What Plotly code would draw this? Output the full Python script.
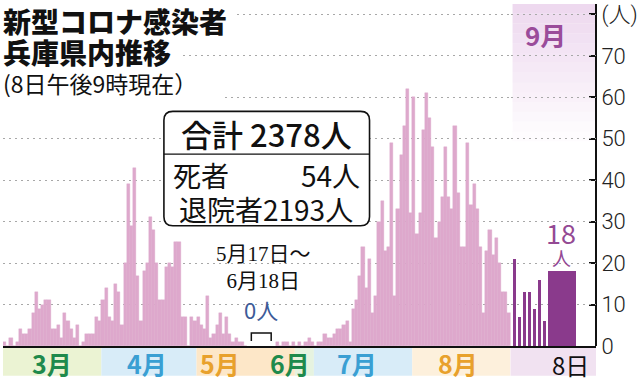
import pandas as pd
import plotly.graph_objects as go

# ---------------- data ----------------
spring_start = "2020-03-01"   # Mar 1 .. May 16
spring_cases = [1, 0, 2, 0, 1, 4, 3, 3, 4, 8,
                13, 9, 10, 11, 11, 4, 4, 5, 2, 8,
                6, 4, 2, 5, 0, 1, 3, 3, 3, 7,
                6, 11, 14, 7, 6, 15, 13, 5, 20, 39,
                29, 43, 17, 6, 18, 20, 31, 28, 20, 11,
                11, 19, 20, 19, 25, 25, 7, 7, 0, 7,
                6, 7, 5, 4, 12, 2, 3, 5, 8, 3,
                7, 3, 1, 2, 1, 1, 0]
summer_start = "2020-06-19"   # Jun 19 .. Aug 31
summer_cases = [1, 0, 1, 1, 0, 1, 0, 1, 0, 1,
                2, 1, 0, 1, 1, 3, 2, 2, 3, 4,
                4, 5, 6, 1, 9, 11, 17, 24, 14, 21,
                8, 12, 30, 35, 23, 24, 49, 12, 33, 46,
                53, 62, 32, 60, 27, 32, 52, 61, 55, 48,
                26, 30, 36, 48, 36, 33, 53, 37, 24, 24,
                49, 34, 39, 33, 24, 8, 23, 28, 22, 26,
                20, 13, 13, 8]
sept_days = [1, 2, 3, 4, 5, 6, 7, 8]
sept_cases = [21, 7, 13, 13, 9, 16, 6, 18]

month_labels = ["3月", "4月", "5月", "6月", "7月", "8月"]
month_label_dates = ["2020-03-16", "2020-04-15", "2020-05-08", "2020-06-23", "2020-07-14", "2020-08-15"]
month_starts = ["2020-03-01", "2020-04-01", "2020-05-01", "2020-06-01", "2020-07-01", "2020-08-01", "2020-09-01"]
y_ticks = [0, 10, 20, 30, 40, 50, 60, 70, 80]
y_ticktext = ["0", "10", "20", "30", "40", "50", "60", "70", "(人)"]

title_lines = ["新型コロナ感染者", "兵庫県内推移"]
subtitle = "(8日午後9時現在）"
total_text = "合計 2378人"
deaths_label, deaths_value = "死者", "54人"
discharged_text = "退院者2193人"
zero_period = "5月17日～<br>6月18日"
zero_text = "0人"

# ---------------- styling helpers ----------------
W, H = 640, 381
L, R, T, B = 3, 40, 2, 35
PW, PH = W - L - R, H - T - B


def px(x):
    return (x - L) / PW


def py(y):
    return (H - B - y) / PH


PINK = "#dea8cc"
PURPLE = "#8a3a8c"
GREEN = "#1f8a4c"
BLUE = "#3a9fd3"
ORANGE = "#e8a12c"
month_colors = [GREEN, BLUE, ORANGE, GREEN, BLUE, ORANGE]
band_colors = ["#ebf3d3", "#d8ecf8", "#fde7c8", "#e6f3e0", "#d8ecf8", "#fdf0dc"]

CJK = "Noto Sans CJK JP"

spring_dates = pd.date_range(spring_start, periods=len(spring_cases), freq="D")
summer_dates = pd.date_range(summer_start, periods=len(summer_cases), freq="D")
dates = list(spring_dates) + list(summer_dates)
values = spring_cases + summer_cases

fig = go.Figure()
fig.add_trace(go.Bar(x=dates, y=values, marker=dict(color=PINK, line=dict(color=PINK, width=0.4)),
                     xaxis="x", yaxis="y", showlegend=False, hoverinfo="skip"))

# September: expanded scale, the latest day drawn wide
today_extra = 2.5
sept_x = [d if d < sept_days[-1] else d + today_extra for d in sept_days]
sept_w = [0.55 if d < sept_days[-1] else 5.6 for d in sept_days]
fig.add_trace(go.Bar(x=sept_x, y=sept_cases, width=sept_w, marker=dict(color=PURPLE, line=dict(width=0)),
                     xaxis="x2", yaxis="y", showlegend=False, hoverinfo="skip"))

split = px(514)
shapes = []
# September tint at top (fading)
n = 14
y_top, y_bot = 2, 140
for i in range(n):
    y0 = y_top + (y_bot - y_top) * i / n
    y1 = y_top + (y_bot - y_top) * (i + 1) / n
    a = 0.75 * (1 - i / n)
    shapes.append(dict(type="rect", xref="paper", yref="paper", x0=px(516), x1=1, y0=py(y1), y1=py(y0),
                       fillcolor=f"rgba(232,204,234,{a:.3f})", line=dict(width=0), layer="below"))
# month bands below axis
band_y0, band_y1 = py(376), py(348)
for i in range(6):
    x0 = pd.Timestamp(month_starts[i]) - pd.Timedelta(hours=12)
    x1 = pd.Timestamp(month_starts[i + 1]) - pd.Timedelta(hours=12)
    shapes.append(dict(type="rect", xref="x", yref="paper", x0=x0, x1=x1, y0=band_y0, y1=band_y1,
                       fillcolor=band_colors[i], line=dict(width=0), layer="below"))
shapes.append(dict(type="rect", xref="paper", yref="paper", x0=split, x1=1, y0=band_y0, y1=band_y1,
                   fillcolor="#f1e2f1", line=dict(width=0), layer="below"))

# white backgrounds behind the title lines (hide the dotted grid)
for (x1, y0, y1) in [(238, 0, 34), (182, 34, 66), (226, 66, 98)]:
    shapes.append(dict(type="rect", xref="paper", yref="paper", x0=0, x1=px(x1), y0=py(y1), y1=py(y0),
                       fillcolor="white", line=dict(width=0), layer="above"))

# rounded stats box
bx0, bx1, by0, by1 = px(165), px(372), py(225), py(110)
rx, ry = 9 / PW, 9 / PH
path = (f"M {bx0+rx},{by1} L {bx1-rx},{by1} Q {bx1},{by1} {bx1},{by1-ry} "
        f"L {bx1},{by0+ry} Q {bx1},{by0} {bx1-rx},{by0} L {bx0+rx},{by0} "
        f"Q {bx0},{by0} {bx0},{by0+ry} L {bx0},{by1-ry} Q {bx0},{by1} {bx0+rx},{by1} Z")
shapes.append(dict(type="path", xref="paper", yref="paper", path=path, fillcolor="white",
                   line=dict(color="#111", width=1.6), layer="above"))
shapes.append(dict(type="line", xref="paper", yref="paper", x0=bx0, x1=bx1, y0=py(153), y1=py(153),
                   line=dict(color="#111", width=1.4), layer="above"))
# bracket marking the zero period
bpath = f"M {px(253)},{py(341)} L {px(253)},{py(333)} L {px(273)},{py(333)} L {px(273)},{py(341)}"
shapes.append(dict(type="path", xref="paper", yref="paper", path=bpath, line=dict(color="#111", width=1.5)))

ann = []


def text(x, y, s, size, color="#111", xanchor="center", family=CJK, weight="normal", xref="paper", h=None):
    d = dict(x=x, y=y, xref=xref, yref="paper", text=s, showarrow=False, xanchor=xanchor, yanchor="middle",
             font=dict(family=family, size=size, color=color, weight=weight))
    if h:
        d.update(height=h, valign="middle")
    ann.append(d)


text(px(1), py(19), title_lines[0], 28, weight=900, xanchor="left", h=30)
text(px(1), py(50), title_lines[1], 28, weight=900, xanchor="left", h=30)
text(px(1), py(81), subtitle, 23, xanchor="left", h=28)

text(px(268), py(132), total_text, 31, weight=500, h=36)
text(px(172), py(174), deaths_label, 28, xanchor="left", h=30)
text(px(364), py(174), deaths_value, 28, xanchor="right", h=30)
text(px(268), py(208), discharged_text, 28, h=30)

text(px(265), py(267), zero_period, 21, family="Liberation Serif, " + CJK)
text(px(263), py(309), zero_text, 22, color="#3c5a98", h=26)

for lab, d, c in zip(month_labels, month_label_dates, month_colors):
    text(pd.Timestamp(d), py(363), lab, 25, color=c, weight="bold", xref="x", h=28)
text(7.3, py(32), "9月", 26, color="#9a4c9a", weight="bold", xref="x2", h=30)
text(10.5, py(231), str(sept_cases[-1]), 27, color="#944a94", xref="x2", h=24)
text(10.5, py(257), "人", 19, color="#944a94", xref="x2", h=19)
text(12.3, py(364), f"{sept_days[-1]}日", 24, xref="x2", h=28)

fig.update_layout(
    width=W, height=H, margin=dict(l=L, r=R, t=T, b=B),
    paper_bgcolor="white", plot_bgcolor="white",
    bargap=0, showlegend=False,
    shapes=shapes, annotations=ann,
    xaxis=dict(type="date", domain=[0, split],
               range=["2020-02-29 12:00", "2020-08-31 12:00"],
               rangebreaks=[dict(bounds=["2020-05-21 12:00", "2020-06-14 12:00"])],
               showticklabels=False, showgrid=False, zeroline=False, ticks="",
               showline=True, linecolor="#111", linewidth=2, anchor="y"),
    xaxis2=dict(domain=[split, 1], range=[0.3, 17.5], showticklabels=False, showgrid=False,
                zeroline=False, ticks="", showline=True, linecolor="#111", linewidth=2, anchor="y"),
    yaxis=dict(range=[0, 82.5], side="right", anchor="free", position=1,
               tickvals=y_ticks, ticktext=y_ticktext, ticks="inside", ticklen=6, tickwidth=1.5,
               tickcolor="#111", showline=True, linecolor="#111", linewidth=2,
               showgrid=True, gridcolor="#a8a8a8", gridwidth=1.4, griddash="2px,4px", zeroline=False,
               ticklabeloverflow="allow",
               tickfont=dict(family="Roboto, " + CJK, size=22, color="#222", weight=300)),
)

fig.write_html("out.html")
